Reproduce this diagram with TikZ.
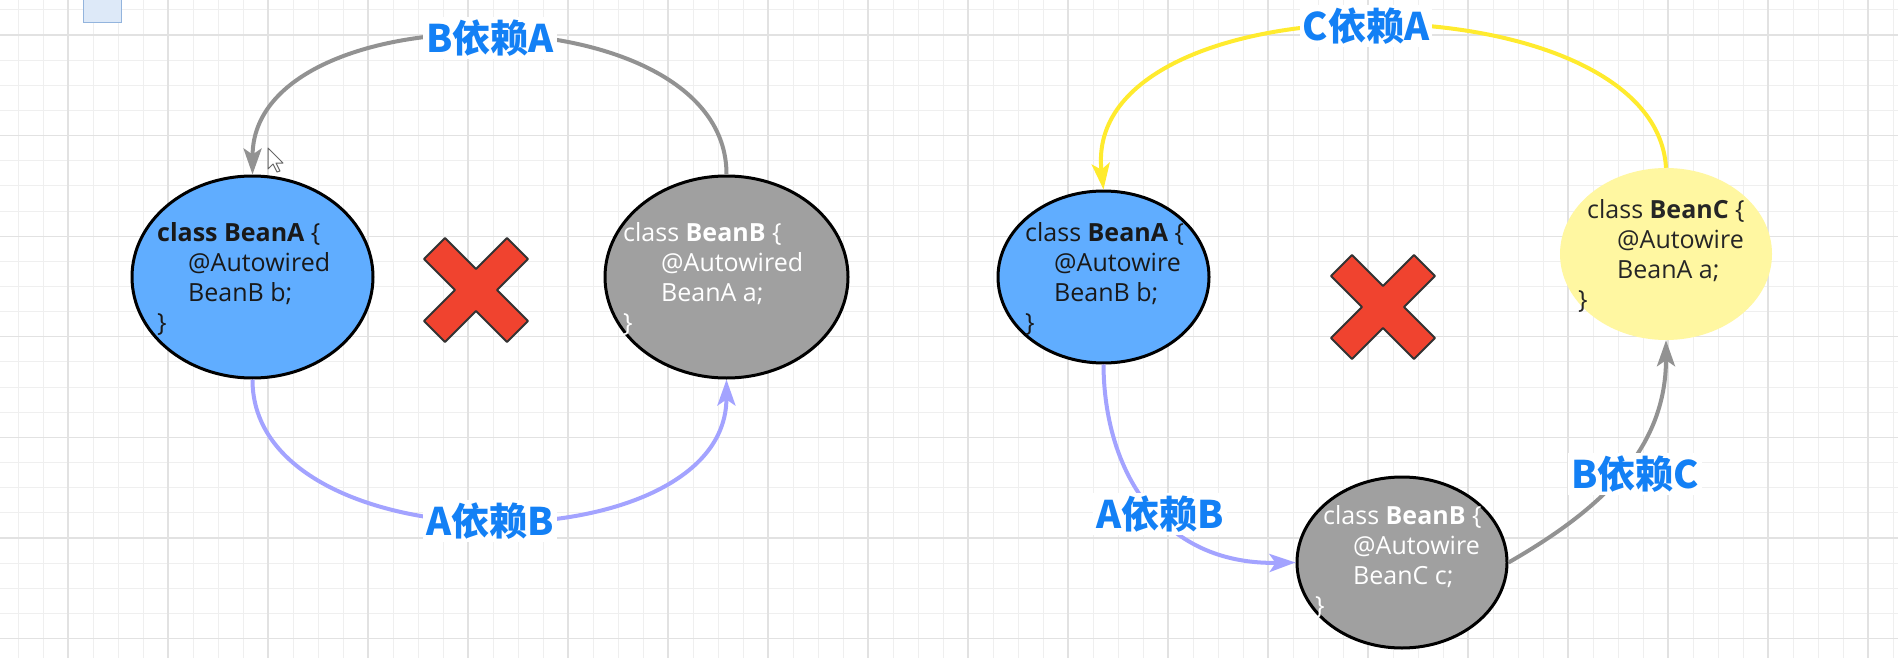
\documentclass[tikz,border=0pt]{standalone}
\usepackage{fontspec}
\newfontfamily\cjk{Noto Sans CJK SC}
\newfontfamily\codefont{Open Sans}
\usetikzlibrary{arrows.meta,shapes.geometric}
\definecolor{beanblue}{HTML}{60ADFF}
\definecolor{beangray}{HTML}{A0A0A0}
\definecolor{beanyellow}{HTML}{FFF7A1}
\definecolor{linegray}{HTML}{929292}
\definecolor{linepurple}{HTML}{A3A3FF}
\definecolor{lineyellow}{HTML}{FFEB2E}
\definecolor{labelblue}{HTML}{1380F5}
\definecolor{xred}{HTML}{F0432F}
\definecolor{gridminor}{HTML}{EFEFEF}
\definecolor{gridmajor}{HTML}{E2E2E2}
\tikzset{
  bean/.style={ellipse, draw=black, line width=3pt, inner sep=0pt},
  codetext/.style={anchor=base west, align=left, inner sep=0pt, font=\codefont\fontsize{25}{30}\selectfont},
  deplabel/.style={fill=white, inner sep=3pt, text=labelblue, font=\cjk\bfseries\fontsize{38}{42}\selectfont},
  conn/.style={line width=4pt, -{Stealth[length=26pt,width=18pt,inset=6pt]}},
  xmark/.style={fill=xred, draw=black!80, line width=2pt, line join=round},
}
\begin{document}
\begin{tikzpicture}[x=1pt,y=-1pt]
\useasboundingbox (0,0) rectangle (1898,658);
\fill[white] (0,0) rectangle (1898,658);
% grid
\foreach \i in {0,...,75} {\draw[gridminor, line width=1pt] ({18+25*\i},0) -- ({18+25*\i},658);}
\foreach \j in {0,...,26} {\draw[gridminor, line width=1pt] (0,{9.8+25.15*\j}) -- (1898,{9.8+25.15*\j});}
\foreach \i in {0,...,18} {\draw[gridmajor, line width=1.2pt] ({68+100*\i},0) -- ({68+100*\i},658);}
\foreach \j in {0,...,6} {\draw[gridmajor, line width=1.2pt] (0,{35+100.6*\j}) -- (1898,{35+100.6*\j});}
% small square top-left
\draw[fill={rgb,255:red,221;green,233;blue,248}, draw={rgb,255:red,147;green,180;blue,221}, line width=1pt] (83,-2) rectangle (121,23);

% beans, left
\node[bean, fill=beanblue, minimum width=241pt, minimum height=202pt] (la) at (252.5,277) {};
\node[bean, fill=beangray, minimum width=243pt, minimum height=202pt] (lb) at (726.5,277) {};
% beans, right
\node[bean, fill=beanblue, minimum width=211pt, minimum height=172pt] (ra) at (1103.5,277) {};
\node[ellipse, inner sep=0pt, fill=beanyellow, minimum width=212pt, minimum height=172pt] (rc) at (1666,254) {};
\node[bean, fill=beangray, minimum width=210pt, minimum height=171pt] (rb) at (1402,562.5) {};

% code texts (anchor = baseline of last line)
\node[codetext, text=black!90] (ta1) at (157,331) {\textbf{class BeanA} \{\\\hspace*{31pt}@Autowired\\\hspace*{31pt}BeanB b;\\\}};
\node[codetext, text=white] (tb1) at (623,331) {class \textbf{BeanB} \{\\\hspace*{38pt}@Autowired\\\hspace*{38pt}BeanA a;\\\}};
\node[codetext, text=black!90] (ta2) at (1025,331) {class \textbf{BeanA} \{\\\hspace*{29pt}@Autowire\\\hspace*{29pt}BeanB b;\\\}};
\node[codetext, text=black!85] (tc2) at (1578,308) {\hspace*{9pt}class \textbf{BeanC} \{\\\hspace*{39pt}@Autowire\\\hspace*{39pt}BeanA a;\\\}};
\node[codetext, text=white] (tb2) at (1315,614) {\hspace*{8pt}class \textbf{BeanB} \{\\\hspace*{38pt}@Autowire\\\hspace*{38pt}BeanC c;\\\}};

% X marks
\draw[xmark, shift={(476,290)}] (0,-21) -- (31,-52) -- (52,-31) -- (21,0) -- (52,31) -- (31,52) -- (0,21) -- (-31,52) -- (-52,31) -- (-21,0) -- (-52,-31) -- (-31,-52) -- cycle;
\draw[xmark, shift={(1383,307)}] (0,-21) -- (31,-52) -- (52,-31) -- (21,0) -- (52,31) -- (31,52) -- (0,21) -- (-31,52) -- (-52,31) -- (-21,0) -- (-52,-31) -- (-31,-52) -- cycle;

% connectors
\draw[conn, linegray] (lb.north) .. controls (727,-10) and (253,-10) .. (la.north);
\draw[conn, linepurple] (la.south) .. controls (252,567) and (726,567) .. (lb.south);
\draw[conn, lineyellow] (rc.north) .. controls (1655,-25) and (1080,-25) .. (ra.north);
\draw[conn, linepurple] (ra.south) .. controls (1104,470) and (1160,565) .. (rb.west);
\draw[conn, linegray] (rb.east) .. controls (1600,510) and (1666,450) .. (rc.south);

% labels
\node[deplabel] (lba) at (490,38) {B依赖A};
\node[deplabel] (lab) at (490,521) {A依赖B};
\node[deplabel] (lca) at (1366,26) {C依赖A};
\node[deplabel] (lab2) at (1160,514) {A依赖B};
\node[deplabel] (lbc) at (1635,474) {B依赖C};

% mouse cursor
\draw[fill=white, draw=black!60, line width=1pt, line join=round, shift={(268,148)}] (0,0) -- (0,21) -- (5,16) -- (9,24) -- (12,23) -- (8,15) -- (15,15) -- cycle;
\end{tikzpicture}
\end{document}
